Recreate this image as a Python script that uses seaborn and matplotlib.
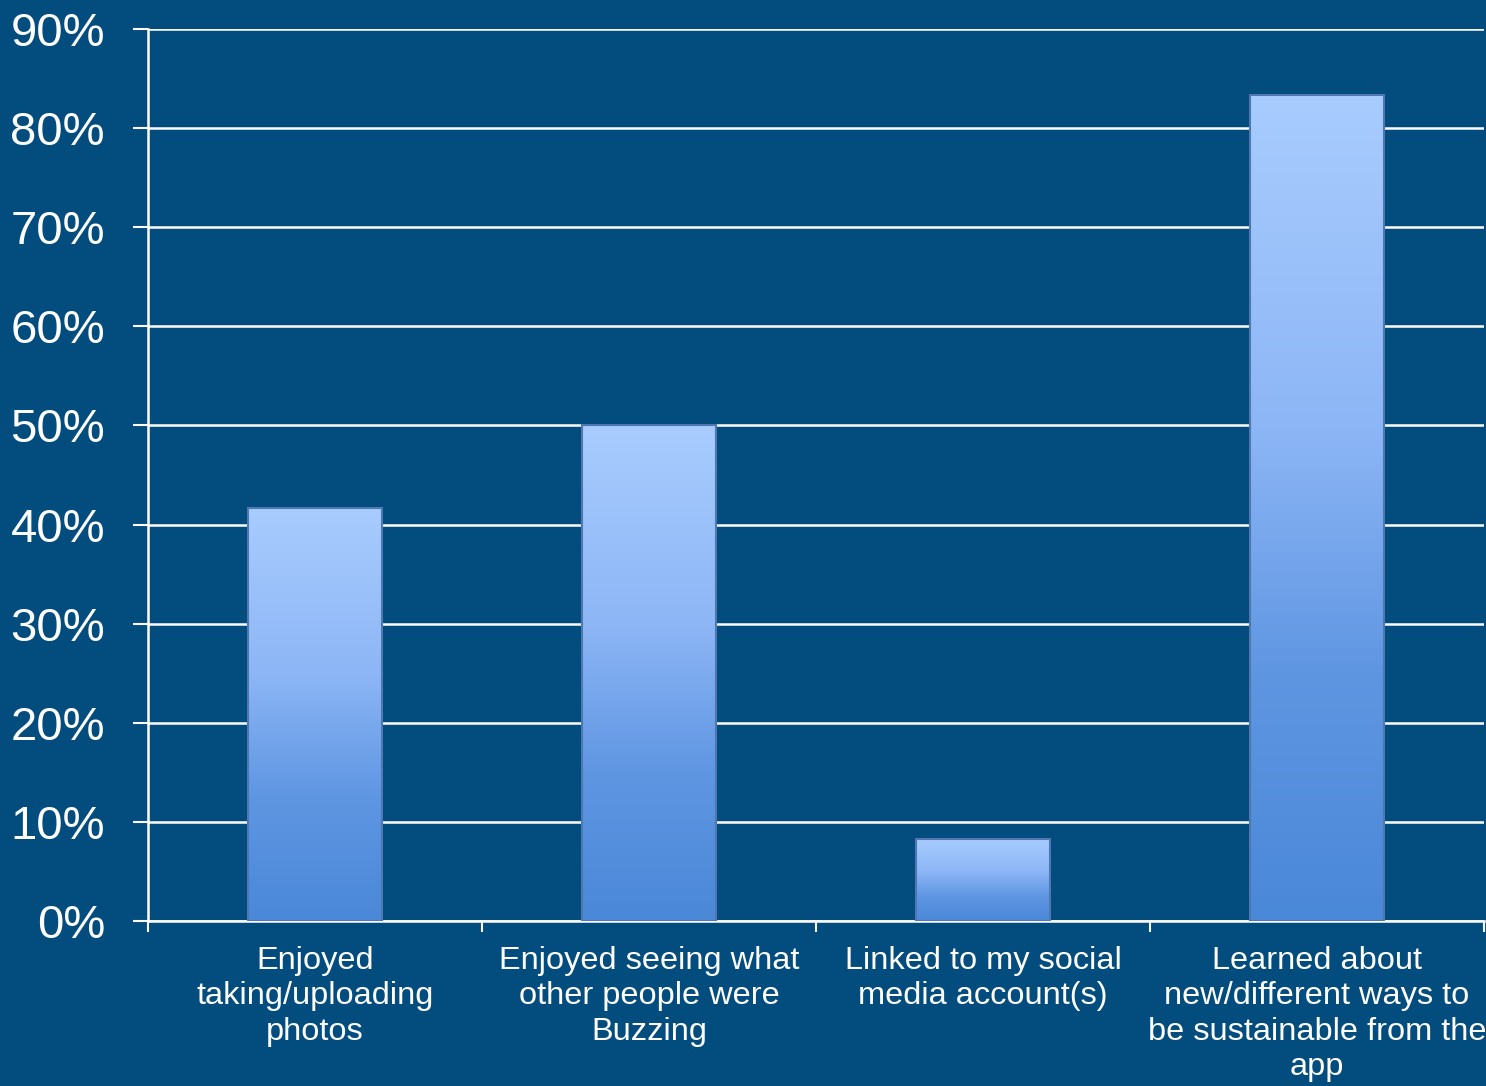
import numpy as np
import pandas as pd
import matplotlib
matplotlib.use('Agg')
import matplotlib.pyplot as plt
import seaborn as sns
from matplotlib.colors import LinearSegmentedColormap

# Data
categories = ['Enjoyed\ntaking/uploading\nphotos',
              'Enjoyed seeing what\nother people were\nBuzzing',
              'Linked to my social\nmedia account(s)',
              'Learned about\nnew/different ways to\nbe sustainable from the\napp']
values = [41.7, 50.0, 8.3, 83.3]
yticks = [0, 10, 20, 30, 40, 50, 60, 70, 80, 90]

df = pd.DataFrame({'category': categories, 'value': values})

bg = '#024c7e'
sns.set_style('white')
plt.rcParams['font.family'] = ['Liberation Sans', 'DejaVu Sans']

fig = plt.figure(figsize=(14.86, 10.86), dpi=100, facecolor=bg)
ax = fig.add_axes([0.0996, 0.152, 0.8991, 0.8213])
ax.set_facecolor(bg)

sns.barplot(data=df, x='category', y='value', width=0.4, color='#7fb0f0',
            ax=ax, zorder=3)

# gradient fill for each bar (dark at bottom, light at top)
cmap = LinearSegmentedColormap.from_list(
    'barfill', [(0, '#4a88d8'), (0.3, '#5f96e2'), (0.6, '#8db6f6'), (1, '#a8ccfe')])
grad = np.linspace(0, 1, 256).reshape(-1, 1)
for p in ax.patches:
    x0, y0 = p.get_x(), p.get_y()
    w, h = p.get_width(), p.get_height()
    im = ax.imshow(grad, extent=[x0, x0 + w, y0, y0 + h], origin='lower',
                   cmap=cmap, aspect='auto', zorder=3.5)
    im.set_clip_path(p)
    p.set_edgecolor('#4f78b0')
    p.set_linewidth(1.5)
    p.set_zorder(4)
    p.set_facecolor('none')

ax.set_xlim(-0.5, len(categories) - 0.5)
ax.set_ylim(0, 90)
ax.set_yticks(yticks)
ax.set_yticklabels([f'{t}%' for t in yticks], color='white', fontsize=34)
ax.yaxis.grid(True, color='white', linewidth=1.8, zorder=1)
ax.set_axisbelow(True)

ax.set_xticks(range(len(categories)))
ax.set_xticklabels(categories, color='white', fontsize=23.4, linespacing=1.24)
ax.tick_params(axis='x', which='major', length=0, pad=18)
ax.set_xticks(np.arange(-0.5, len(categories)), minor=True)
ax.tick_params(axis='x', which='minor', length=8, width=1.5, color='white',
               direction='out', bottom=True)
ax.tick_params(axis='y', length=11, width=1.5, color='white', direction='out',
               left=True, pad=20)

for s in ['top', 'right']:
    ax.spines[s].set_visible(False)
for s in ['left', 'bottom']:
    ax.spines[s].set_color('white')
    ax.spines[s].set_linewidth(1.8)

ax.set_xlabel('')
ax.set_ylabel('')

fig.savefig('out.png', dpi=100, facecolor=bg)
